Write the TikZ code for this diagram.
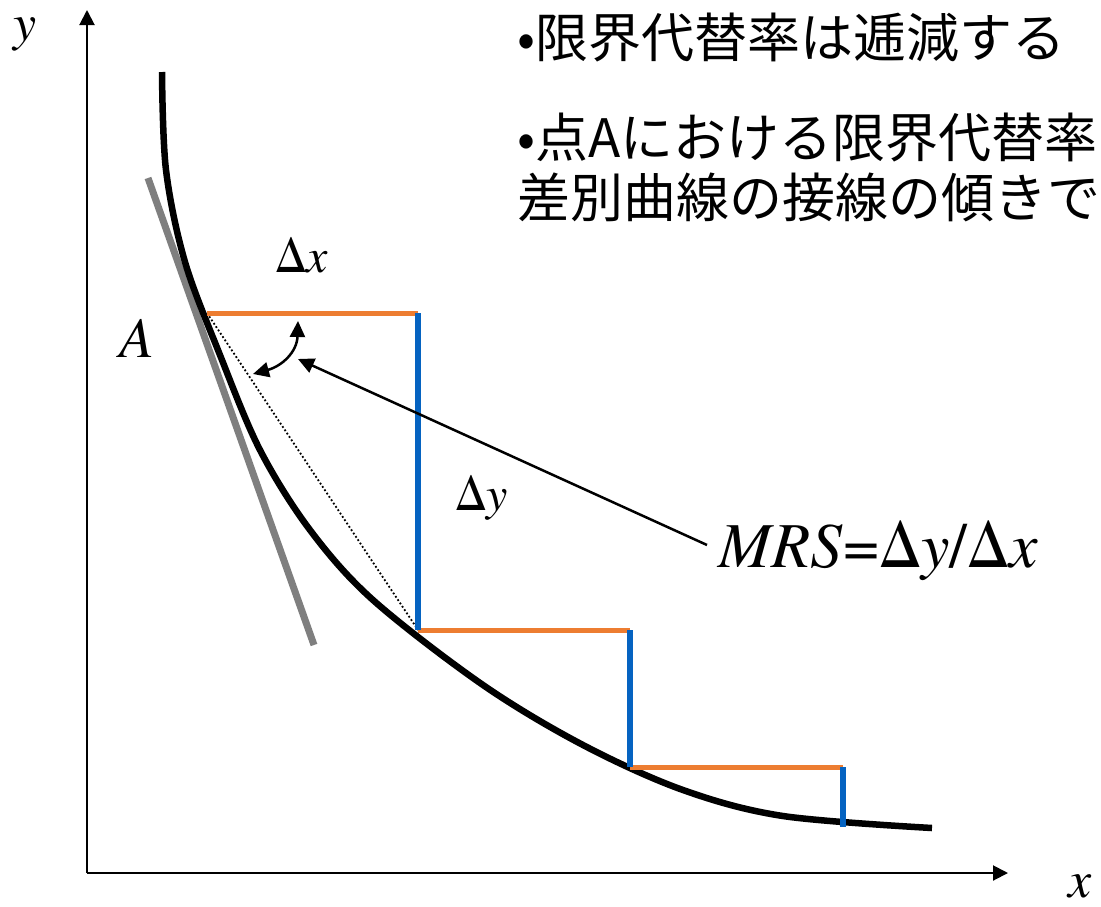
\documentclass[tikz,border=0pt]{standalone}
\usepackage{fontspec}
\newfontfamily\jpfont{Noto Sans CJK JP}
\newfontfamily\tnr{texgyretermes}[Extension=.otf,UprightFont=*-regular,ItalicFont=*-italic,BoldFont=*-bold,BoldItalicFont=*-bolditalic]
\usepackage{xcolor}
\usetikzlibrary{arrows.meta}
\definecolor{stepx}{HTML}{ED7D31}
\definecolor{stepy}{HTML}{0563C1}
\definecolor{tangentgray}{HTML}{7F7F7F}
\tikzset{axis/.style={line width=2pt,-{Triangle[length=15pt,width=15pt]}},curve/.style={line width=6.5pt},tangent line/.style={draw=tangentgray,line width=7pt},dx edge/.style={draw=stepx,line width=5pt},dy edge/.style={draw=stepy,line width=6pt},pointer/.style={line width=2.5pt,-{Triangle[length=16pt,width=15pt]}},math label/.style={inner sep=0pt,anchor=base west},note/.style={inner sep=0pt,anchor=base west,font=\jpfont\fontsize{53}{60}\selectfont}}

\begin{document}
\begin{tikzpicture}[x=1pt,y=-1pt]
 \useasboundingbox (0,0) rectangle (1101,906);

 % axes
 \coordinate (O) at (87,873);
 \coordinate (ytip) at (87,10);
 \coordinate (xtip) at (1008,873);
 \draw[axis] (O)--(ytip);
 \draw[axis] (O)--(xtip);
 \node[math label,font=\tnr\fontsize{52}{56}\selectfont] (ylab) at (13,40) {\textit{y}};
 \node[math label,font=\tnr\fontsize{52}{56}\selectfont] (xlab) at (1068,897) {\textit{x}};

 % tangent at A
 \coordinate (t1) at (148,178);
 \coordinate (t2) at (314,645);
 \draw[tangent line] (t1)--(t2);

 % indifference curve
 \draw[curve] plot[smooth,tension=.55] coordinates {(162,72) (166,170) (185,262) (220,355) (260,450) (310,530) (373,600) (483,685) (583,745) (683,790) (783,816) (932,828)};

 % steps
 \coordinate (s0) at (207,313);
 \coordinate (c1) at (418,313);
 \coordinate (s1) at (418,630);
 \coordinate (c2) at (630,630);
 \coordinate (s2) at (630,767);
 \coordinate (c3) at (843,767);
 \coordinate (s3) at (843,827);
 \draw[dash pattern=on 1.8pt off 2.2pt,line width=1.8pt] (s0)--(s1);
 \foreach \src/\dst in {s0/c1,s1/c2,s2/c3} {\draw[dx edge] (\src)--(\dst);}
 \foreach \src/\dst in {c1/s1,c2/s2,c3/s3} {\draw[dy edge] (\src)--(\dst);}

 % labels
 \node[math label,font=\tnr\fontsize{48}{52}\selectfont] (dx) at (275,272) {Δ\textit{x}};
 \node[math label,font=\tnr\fontsize{57}{60}\selectfont] (A) at (119,357) {\textit{A}};
 \node[math label,font=\tnr\fontsize{48}{52}\selectfont] (dy) at (455,510) {Δ\textit{y}};
 \node[math label,font=\tnr\fontsize{64}{68}\selectfont] (mrs) at (718,567) {\textit{MRS}=Δ\textit{y}/Δ\textit{x}};

 % angle marker and pointer
 \coordinate (ang1) at (298,321);
 \coordinate (ang2) at (253,374);
 \draw[line width=2.5pt,{Triangle[length=16pt,width=15pt]}-{Triangle[length=16pt,width=15pt]}] (ang1) .. controls (297,352) and (282,366) .. (ang2);
 \coordinate (mrs tip) at (298,359);
 \coordinate (mrs start) at (707,545);
 \draw[pointer] (mrs start)--(mrs tip);

 % notes
 \node[note] (note1) at (517,57) {•限界代替率は逓減する};
 \node[note] (note2) at (517,157) {•点Aにおける限界代替率};
 \node[note] (note3) at (517,217) {差別曲線の接線の傾きで};
\end{tikzpicture}
\end{document}
